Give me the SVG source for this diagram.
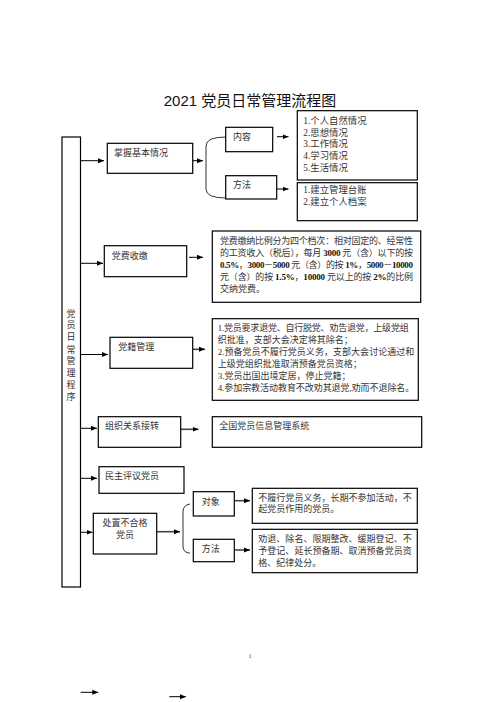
<svg xmlns="http://www.w3.org/2000/svg" width="496" height="702" viewBox="0 0 496 702">
<style>
.bx{fill:#fff;stroke:#000;stroke-width:1.2}
.t{font-family:"Liberation Serif","Noto Sans CJK SC",serif;font-size:9px;fill:#333}
.tl{font-family:"Liberation Serif","Noto Sans CJK SC",serif;font-size:9.4px;fill:#333}
.title{font-family:"Liberation Sans","Noto Sans CJK SC",sans-serif;font-size:15px;fill:#111}
.c{fill:none;stroke:#000;stroke-width:1}
.cg{fill:none;stroke:#444;stroke-width:1.6}
.br{fill:none;stroke:#333;stroke-width:1}
.b{font-weight:bold;fill:#111}
</style>
<defs>
<marker id="ah" viewBox="0 0 6 6" refX="6" refY="3" markerWidth="6" markerHeight="6" markerUnits="userSpaceOnUse" orient="auto">
<path d="M0,0.5 L6,3 L0,5.5 Z" fill="#000"/>
</marker>
</defs>
<rect width="496" height="702" fill="#fff"/>
<text class="title" x="250" y="106" text-anchor="middle">2021 党员日常管理流程图</text>

<g id="connectors">
<line class="c" x1="80" y1="160.7" x2="104" y2="160.7" marker-end="url(#ah)"/>
<line class="c" x1="193" y1="160.7" x2="203" y2="160.7" marker-end="url(#ah)"/>
<path class="br" d="M226,137 Q206,137 206,146 L206,189 Q206,198 226,198"/>
<line class="c" x1="277" y1="136.7" x2="288.5" y2="136.7" marker-end="url(#ah)"/>
<line class="c" x1="277" y1="189" x2="288.5" y2="189" marker-end="url(#ah)"/>
<line class="c" x1="80" y1="263.3" x2="103" y2="263.3" marker-end="url(#ah)"/>
<line class="c" x1="189" y1="257.3" x2="203" y2="257.3" marker-end="url(#ah)"/>
<line class="c" x1="80" y1="354.5" x2="108" y2="354.5" marker-end="url(#ah)"/>
<line class="cg" x1="193" y1="349.3" x2="205" y2="349.3" marker-end="url(#ah)"/>
<line class="c" x1="80" y1="428.3" x2="97" y2="428.3" marker-end="url(#ah)"/>
<line class="cg" x1="181" y1="429.3" x2="198.5" y2="429.3" marker-end="url(#ah)"/>
<line class="c" x1="80" y1="478.3" x2="97" y2="478.3" marker-end="url(#ah)"/>
<line class="c" x1="80" y1="532.3" x2="92.5" y2="532.3" marker-end="url(#ah)"/>
<line class="cg" x1="157" y1="531.7" x2="180" y2="531.7" marker-end="url(#ah)"/>
<path class="br" d="M190,504 Q183,505 183,512 L183,546 Q183,553 190,553"/>
<line class="cg" x1="234.5" y1="500.7" x2="250" y2="500.7" marker-end="url(#ah)"/>
<line class="cg" x1="234.5" y1="550" x2="250" y2="550" marker-end="url(#ah)"/>
<line class="c" x1="80.7" y1="692.3" x2="98.3" y2="692.3" marker-end="url(#ah)"/>
<line class="c" x1="169.3" y1="696.7" x2="186" y2="696.7" marker-end="url(#ah)"/>
</g>

<g id="n-main">
<rect class="bx" x="62" y="137" width="18.5" height="450"/>
<text class="t" text-anchor="middle">
<tspan x="71" y="316.5">党</tspan><tspan x="71" y="328.2">员</tspan><tspan x="71" y="340">日</tspan><tspan x="71" y="352.5">常</tspan><tspan x="71" y="364.2">管</tspan><tspan x="71" y="376">理</tspan><tspan x="71" y="387.5">程</tspan><tspan x="71" y="400">序</tspan>
</text>
</g>

<g id="n-zhangwo">
<rect class="bx" x="107.3" y="143.3" width="85.4" height="30"/>
<text class="t" x="114" y="156">掌握基本情况</text>
</g>
<g id="n-neirong">
<rect class="bx" x="225.7" y="127.3" width="47" height="24.4"/>
<text class="t" x="233" y="139.5">内容</text>
</g>
<g id="n-fangfa1">
<rect class="bx" x="225.7" y="175.7" width="51" height="23.3"/>
<text class="t" x="233" y="188">方法</text>
</g>
<g id="n-list">
<rect class="bx" x="297.3" y="110.7" width="120" height="69.3"/>
<text class="tl" x="303.3" y="124">1.个人自然情况</text>
<text class="tl" x="303.3" y="135.6">2.思想情况</text>
<text class="tl" x="303.3" y="147.3">3.工作情况</text>
<text class="tl" x="303.3" y="159">4.学习情况</text>
<text class="tl" x="303.3" y="171.3">5.生活情况</text>
</g>
<g id="n-method1">
<rect class="bx" x="297.3" y="182.7" width="120" height="38"/>
<text class="tl" x="303.3" y="193.3">1.建立管理台账</text>
<text class="tl" x="303.3" y="205">2.建立个人档案</text>
</g>

<g id="n-dangfei">
<rect class="bx" x="104.3" y="245.7" width="82.4" height="31"/>
<text class="t" x="111.7" y="259">党费收缴</text>
</g>
<g id="n-dangfei-text">
<rect class="bx" x="212.3" y="231" width="208.4" height="71.3"/>
<text class="t" x="220" y="244.3" textLength="193" lengthAdjust="spacing">党费缴纳比例分为四个档次：相对固定的、经常性</text>
<text class="t" x="220" y="256.3" textLength="193" lengthAdjust="spacing">的工资收入（税后），每月 <tspan class="b">3000</tspan> 元（含）以下的按</text>
<text class="t" x="220" y="268.1" textLength="193" lengthAdjust="spacing"><tspan class="b">0.5%</tspan>，<tspan class="b">3000</tspan>－<tspan class="b">5000</tspan> 元（含）的按 <tspan class="b">1%</tspan>，<tspan class="b">5000</tspan>－<tspan class="b">10000</tspan></text>
<text class="t" x="220" y="279.9" textLength="193" lengthAdjust="spacing">元（含）的按 <tspan class="b">1.5%</tspan>，<tspan class="b">10000</tspan> 元以上的按 <tspan class="b">2%</tspan>的比例</text>
<text class="t" x="220" y="291.6">交纳党费。</text>
</g>

<g id="n-dangji">
<rect class="bx" x="110" y="337.3" width="82.7" height="31"/>
<text class="t" x="118.3" y="350">党籍管理</text>
</g>
<g id="n-dangji-text">
<rect class="bx" x="212.3" y="318.7" width="206" height="81.6"/>
<text class="t" x="217.7" y="331.3" textLength="191" lengthAdjust="spacing">1.党员要求退党、自行脱党、劝告退党，上级党组</text>
<text class="t" x="217.7" y="343">织批准，支部大会决定将其除名；</text>
<text class="t" x="217.7" y="354.7" textLength="196.6" lengthAdjust="spacing">2.预备党员不履行党员义务，支部大会讨论通过和</text>
<text class="t" x="217.7" y="367">上级党组织批准取消预备党员资格；</text>
<text class="t" x="217.7" y="378.6">3.党员出国出境定居，停止党籍；</text>
<text class="t" x="217.7" y="391" textLength="196.6" lengthAdjust="spacing">4.参加宗教活动教育不改劝其退党,劝而不退除名。</text>
</g>

<g id="n-zuzhi">
<rect class="bx" x="98.3" y="416.7" width="82.4" height="30.6"/>
<text class="t" x="105" y="429">组织关系接转</text>
</g>
<g id="n-quanguo">
<rect class="bx" x="212.3" y="416.7" width="209.4" height="30.6"/>
<text class="t" x="219.3" y="428.5">全国党员信息管理系统</text>
</g>

<g id="n-minzhu">
<rect class="bx" x="99" y="466.7" width="85" height="26.6"/>
<text class="t" x="105" y="479.3">民主评议党员</text>
</g>

<g id="n-chuzhi">
<rect class="bx" x="93.3" y="513.3" width="63.4" height="40.7"/>
<text class="t" x="125" y="526" text-anchor="middle">处置不合格</text>
<text class="t" x="125" y="537.6" text-anchor="middle">党员</text>
</g>
<g id="n-duixiang">
<rect class="bx" x="193.3" y="491.7" width="41" height="24.3"/>
<text class="t" x="201.7" y="505">对象</text>
</g>
<g id="n-fangfa2">
<rect class="bx" x="193.3" y="539.3" width="41" height="22.4"/>
<text class="t" x="201.7" y="551.6">方法</text>
</g>
<g id="n-duixiang-text">
<rect class="bx" x="252.3" y="488.3" width="165" height="35"/>
<text class="t" x="258.3" y="500.6" textLength="153.4" lengthAdjust="spacing">不履行党员义务，长期不参加活动，不</text>
<text class="t" x="258.3" y="512.3">起党员作用的党员。</text>
</g>
<g id="n-fangfa2-text">
<rect class="bx" x="252.3" y="529.3" width="165" height="43.4"/>
<text class="t" x="258.3" y="542.3" textLength="153.4" lengthAdjust="spacing">劝退、除名、限期整改、缓期登记、不</text>
<text class="t" x="258.3" y="554" textLength="153.4" lengthAdjust="spacing">予登记、延长预备期、取消预备党员资</text>
<text class="t" x="258.3" y="565.6">格、纪律处分。</text>
</g>

<text class="t" x="250" y="658" text-anchor="middle" style="font-size:6px">1</text>
</svg>
